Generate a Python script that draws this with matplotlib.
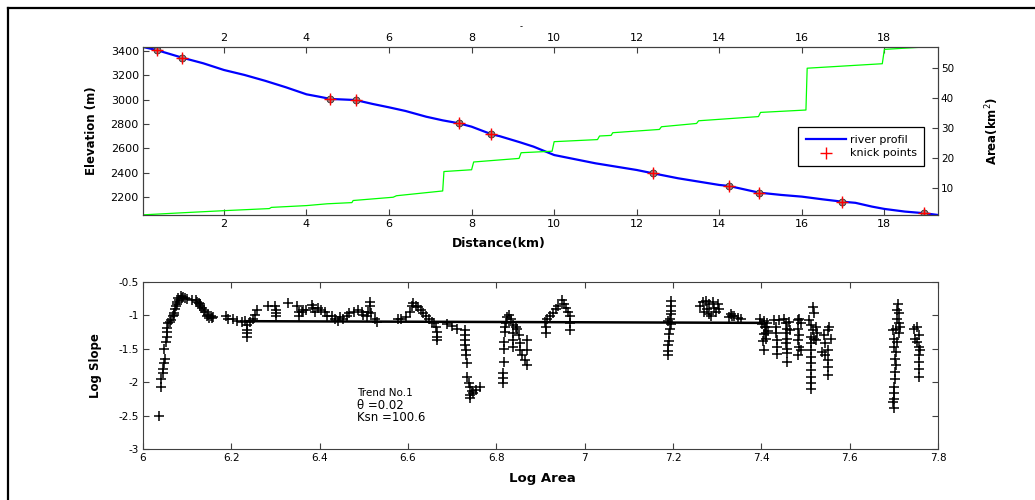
import matplotlib
matplotlib.use('Agg')
import matplotlib.pyplot as plt
from matplotlib.lines import Line2D
from matplotlib.ticker import FuncFormatter

plt.rcParams['font.family'] = ['DejaVu Sans']

# river long profile (distance km, elevation m)
dist = [0.04, 0.37, 0.99, 1.5, 2.0, 2.5, 3.0, 3.5, 4.0, 4.3, 4.58, 5.19, 5.6,
        6.0, 6.4, 6.9, 7.3, 7.69, 8.0, 8.48, 8.68, 9.17, 9.5, 10.0, 11.0,
        12.0, 12.39, 13.0, 14.0, 14.23, 14.96, 15.5, 16.0, 16.5, 16.97,
        17.3, 17.7, 18.0, 18.5, 18.96, 19.3]
elev = [3433, 3408, 3345, 3299, 3244, 3203, 3155, 3102, 3044, 3025, 3006,
        2997, 2965, 2937, 2907, 2860, 2830, 2806, 2778, 2716, 2700, 2650,
        2614, 2545, 2477, 2422, 2395, 2354, 2299, 2291, 2236, 2217, 2203,
        2181, 2162, 2152, 2121, 2102, 2080, 2067, 2052]

# drainage area along the profile (km^2)
area_dist = [0.04, 1.0, 2.0, 3.1, 3.15, 4.0, 4.5, 5.1, 5.13, 6.1, 6.18, 7.3,
             7.33, 8.0, 8.05, 9.15, 9.2, 9.95, 10.0, 11.05, 11.1, 11.38,
             11.42, 12.55, 12.6, 13.45, 13.5, 14.95, 15.0, 16.1, 16.13,
             17.95, 18.0, 18.85]
area = [0.9, 1.6, 2.3, 3.0, 3.4, 4.0, 4.6, 5.0, 5.7, 6.8, 7.3, 8.9, 15.4,
        16.0, 18.6, 19.8, 21.7, 22.2, 25.4, 26.1, 27.3, 27.5, 28.4, 29.5,
        30.4, 31.5, 32.4, 33.8, 35.2, 36.0, 50.0, 51.5, 56.3, 57.0]

# knick points
knick_d = [0.37, 0.99, 4.58, 5.19, 7.69, 8.48, 12.39, 14.23, 14.96, 16.97, 18.96]
knick_z = [3408, 3345, 3006, 2997, 2806, 2716, 2395, 2291, 2236, 2162, 2067]

# slope-area data
log_area = [
    6.036, 6.040, 6.040, 6.046, 6.046, 6.048, 6.050, 6.048, 6.052, 6.054, 6.054,
    6.055, 6.057, 6.060, 6.063, 6.067, 6.069, 6.071, 6.072, 6.075, 6.076, 6.078,
    6.080, 6.082, 6.085, 6.088, 6.091, 6.095, 6.100, 6.110, 6.120, 6.122, 6.126,
    6.129, 6.130, 6.133, 6.137, 6.140, 6.145, 6.148, 6.150, 6.153, 6.156, 6.159,
    6.188, 6.193, 6.203, 6.212, 6.223, 6.231, 6.235, 6.236, 6.236, 6.236, 6.242,
    6.250, 6.254, 6.258, 6.282, 6.299, 6.301, 6.301, 6.301, 6.329, 6.348, 6.352,
    6.354, 6.359,
    6.363, 6.370, 6.382, 6.385, 6.389, 6.397, 6.404, 6.412, 6.416, 6.427, 6.435,
    6.442, 6.446, 6.453, 6.461, 6.467, 6.478, 6.487, 6.495, 6.499, 6.506, 6.510,
    6.514, 6.515, 6.517, 6.525, 6.529,
    6.578, 6.585, 6.595, 6.604, 6.608, 6.612, 6.618, 6.623, 6.629, 6.635, 6.641,
    6.648, 6.654, 6.659, 6.663, 6.665, 6.665, 6.665, 6.688, 6.699, 6.710,
    6.729, 6.729, 6.729, 6.729, 6.731, 6.731, 6.733, 6.734, 6.737, 6.740, 6.744,
    6.740, 6.748, 6.740, 6.763, 6.755,
    6.815, 6.815, 6.815, 6.818, 6.818, 6.818, 6.819, 6.819, 6.822, 6.825, 6.829,
    6.834, 6.838, 6.838, 6.838, 6.838, 6.844, 6.847, 6.852, 6.853, 6.853, 6.857,
    6.865, 6.869, 6.869, 6.869,
    6.910, 6.912, 6.912, 6.915, 6.921, 6.929, 6.935, 6.940, 6.948, 6.953, 6.957,
    6.963, 6.967, 6.967, 6.967,
    7.196, 7.196, 7.196, 7.196, 7.193, 7.189, 7.196, 7.193, 7.191, 7.191, 7.189,
    7.189, 7.189,
    7.267, 7.275, 7.282, 7.278, 7.282, 7.290, 7.293, 7.297, 7.301, 7.303, 7.271,
    7.286, 7.260,
    7.327, 7.331, 7.334, 7.338, 7.346, 7.353,
    7.398, 7.401, 7.405, 7.409, 7.405, 7.403, 7.405, 7.413, 7.416, 7.410, 7.411,
    7.411, 7.429, 7.433, 7.433, 7.435, 7.435, 7.435, 7.441, 7.452, 7.456, 7.459,
    7.456, 7.459, 7.456, 7.459, 7.459, 7.459, 7.463, 7.465,
    7.482, 7.486, 7.489, 7.482, 7.486, 7.482, 7.486, 7.482, 7.489,
    7.516, 7.520, 7.508, 7.512, 7.516, 7.512, 7.512, 7.512, 7.512, 7.512, 7.512,
    7.512, 7.512, 7.512, 7.524, 7.527, 7.524, 7.520,
    7.542, 7.550, 7.553, 7.545, 7.550, 7.545, 7.550, 7.550, 7.550, 7.557, 7.538,
    7.708, 7.711, 7.708, 7.711, 7.704, 7.711, 7.700, 7.708, 7.700, 7.704, 7.702,
    7.704, 7.702, 7.702, 7.700, 7.700, 7.700, 7.700, 7.697, 7.715, 7.697, 7.710,
    7.745, 7.753, 7.756, 7.753, 7.756, 7.759, 7.756, 7.756, 7.756, 7.756, 7.749,
]
log_slope = [
    -2.51, -2.08, -1.95, -1.86, -1.80, -1.72, -1.66, -1.50, -1.40, -1.32, -1.25,
    -1.19, -1.12, -1.10, -1.07, -1.02, -1.00, -0.97, -0.91, -0.86, -0.80, -0.83,
    -0.75, -0.77, -0.72, -0.74, -0.73, -0.75, -0.76, -0.77, -0.78, -0.80, -0.82,
    -0.83, -0.87, -0.90, -0.93, -0.95, -1.02, -1.00, -1.04, -1.02, -1.04, -1.03,
    -1.01, -1.05, -1.06, -1.08, -1.10, -1.08, -1.15, -1.22, -1.27, -1.33, -1.10,
    -1.06, -1.00, -0.93, -0.87, -0.86, -0.92, -0.97, -1.01, -0.82, -0.87, -0.95,
    -1.01, -0.95,
    -0.93, -0.92, -0.85, -0.90, -0.95, -0.90, -0.93, -0.96, -1.01, -1.02, -1.06,
    -1.08, -1.03, -1.05, -1.02, -0.97, -0.95, -0.92, -0.95, -1.00, -1.02, -0.95,
    -0.87, -0.81, -0.97, -1.05, -1.10,
    -1.06, -1.05, -1.03, -0.95, -0.87, -0.82, -0.86, -0.88, -0.92, -0.97, -1.01,
    -1.05, -1.10, -1.12, -1.17, -1.25, -1.32, -1.37, -1.13, -1.16, -1.21,
    -1.22, -1.30, -1.37, -1.45, -1.52, -1.60, -1.72, -1.92, -2.02, -2.07, -2.14,
    -2.19, -2.17, -2.24, -2.07, -2.12,
    -2.02, -1.94, -1.87, -1.70, -1.50, -1.40, -1.25, -1.17, -1.11, -1.03, -1.00,
    -1.05, -1.15, -1.27, -1.37, -1.47, -1.17, -1.21, -1.30, -1.42, -1.52, -1.60,
    -1.67, -1.75, -1.37, -1.52,
    -1.10, -1.27, -1.17, -1.06, -1.02, -0.97, -0.91, -0.87, -0.77, -0.83, -0.90,
    -0.95, -1.02, -1.12, -1.22,
    -0.79, -0.86, -0.94, -0.99, -1.06, -1.08, -1.13, -1.21, -1.28, -1.38, -1.45,
    -1.54, -1.60,
    -0.81, -0.79, -0.84, -0.91, -0.99, -0.81, -0.89, -0.96, -0.84, -0.91, -0.96,
    -1.01, -0.86,
    -1.03, -0.99, -1.02, -1.01, -1.04, -1.06,
    -1.06, -1.13, -1.08, -1.18, -1.28, -1.38, -1.52, -1.11, -1.23, -1.36, -1.17,
    -1.27, -1.07, -1.17, -1.27, -1.37, -1.47, -1.58, -1.07, -1.05, -1.12, -1.20,
    -1.27, -1.35, -1.42, -1.50, -1.57, -1.70, -1.10, -1.22,
    -1.07, -1.05, -1.12, -1.20, -1.30, -1.37, -1.47, -1.60, -1.52,
    -0.88, -0.97, -1.07, -1.15, -1.22, -1.32, -1.42, -1.52, -1.62, -1.72, -1.82,
    -1.92, -2.02, -2.10, -1.17, -1.27, -1.37, -1.35,
    -1.30, -1.22, -1.17, -1.42, -1.52, -1.60, -1.67, -1.77, -1.90, -1.35, -1.55,
    -0.92, -0.97, -1.05, -1.12, -1.20, -1.27, -1.35, -1.40, -1.47, -1.55, -1.65,
    -1.75, -1.85, -1.95, -2.07, -2.17, -2.25, -2.38, -1.22, -1.17, -2.30, -0.84,
    -1.20, -1.17, -1.30, -1.40, -1.47, -1.52, -1.60, -1.70, -1.80, -1.92, -1.35,
]

# fitted trend (end points)
trend_x = [6.235, 7.40]
trend_y = [-1.09, -1.115]

fig = plt.figure(figsize=(10.35, 5), dpi=100)

# outer frame (top and left edges only)
fig.add_artist(Line2D([0.0077, 1.0], [0.984, 0.984], transform=fig.transFigure,
                      color='black', lw=1.6))
fig.add_artist(Line2D([0.0077, 0.0077], [0.0, 0.984], transform=fig.transFigure,
                      color='black', lw=1.6))
fig.text(0.503, 0.946, '-', fontsize=6, ha='center', va='center')

axcol = '#404040'

# ---- top panel: profile + area ----
ax1 = fig.add_axes([0.1382, 0.57, 0.7681, 0.336])
ax1.plot(dist, elev, color='#0000ff', lw=1.6, label='river profil')
ax1.plot(knick_d, knick_z, 'o', ms=5, mfc='#a08080', mec='#303030', mew=0.6)
ax1.plot(knick_d, knick_z, '+', ms=8, color='red', mew=1.0, ls='none',
         label='knick points')
ax1.set_xlim(0.04, 19.3)
ax1.set_ylim(2052, 3433)
ax1.set_xticks(range(2, 20, 2))
ax1.set_yticks(range(2200, 3401, 200))
ax1.tick_params(direction='in', length=4, labelsize=8, top=True, labeltop=True,
                right=False, color=axcol, pad=3)
ax1.set_ylabel('Elevation (m)', fontsize=8.5, fontweight='bold')
ax1.yaxis.set_label_coords(-0.057, 0.5)
ax1.set_xlabel('Distance(km)', fontsize=9, fontweight='bold')
ax1.xaxis.set_label_coords(0.448, -0.13)

ax2 = ax1.twinx()
ax2.plot(area_dist, area, color='#00ff00', lw=0.9)
ax2.set_ylim(0.85, 57.1)
ax2.set_yticks([10, 20, 30, 40, 50])
ax2.tick_params(direction='in', length=4, labelsize=7.5, color=axcol, pad=2)
ax2.set_ylabel('Area(km$^2$)', fontsize=8.5, fontweight='bold')
ax2.yaxis.set_label_coords(1.057, 0.5)

for a in (ax1, ax2):
    for s in a.spines.values():
        s.set_color(axcol)
        s.set_linewidth(0.8)

h, l = ax1.get_legend_handles_labels()
leg = ax2.legend(h, l, loc='center', bbox_to_anchor=(0.824, 0.274, 0.158, 0.268),
                 mode='expand', fontsize=8, fancybox=False, framealpha=1,
                 edgecolor='black', handlelength=3.6, handletextpad=0.4,
                 labelspacing=0.35, borderpad=0.7, borderaxespad=0)
leg.get_frame().set_linewidth(0.9)

# ---- bottom panel: slope-area ----
ax3 = fig.add_axes([0.1382, 0.102, 0.7681, 0.3346])
ax3.plot(log_area, log_slope, '+', color='black', ms=7, mew=1.1, ls='none')
ax3.plot(trend_x, trend_y, color='black', lw=1.8)
ax3.set_xlim(6, 7.8)
ax3.set_ylim(-3, -0.5)
ax3.set_xticks([6, 6.2, 6.4, 6.6, 6.8, 7, 7.2, 7.4, 7.6, 7.8])
ax3.set_yticks([-3, -2.5, -2, -1.5, -1, -0.5])
fmt = FuncFormatter(lambda v, p: '%g' % round(v, 2))
ax3.xaxis.set_major_formatter(fmt)
ax3.yaxis.set_major_formatter(fmt)
ax3.tick_params(direction='in', length=4, labelsize=7.5, top=True, right=True,
                color=axcol, pad=3)
for s in ax3.spines.values():
    s.set_color(axcol)
    s.set_linewidth(0.8)
ax3.set_xlabel('Log Area', fontsize=9.5, fontweight='bold')
ax3.xaxis.set_label_coords(0.502, -0.137)
ax3.set_ylabel('Log Slope', fontsize=8.5, fontweight='bold')
ax3.yaxis.set_label_coords(-0.052, 0.5)

ax3.text(6.485, -2.17, 'Trend No.1', fontsize=7.5, va='center')
ax3.text(6.485, -2.35, '\u03b8 =0.02', fontsize=8.5, va='center')
ax3.text(6.485, -2.53, 'Ksn =100.6', fontsize=8.5, va='center')

fig.savefig('out.png', dpi=100)
